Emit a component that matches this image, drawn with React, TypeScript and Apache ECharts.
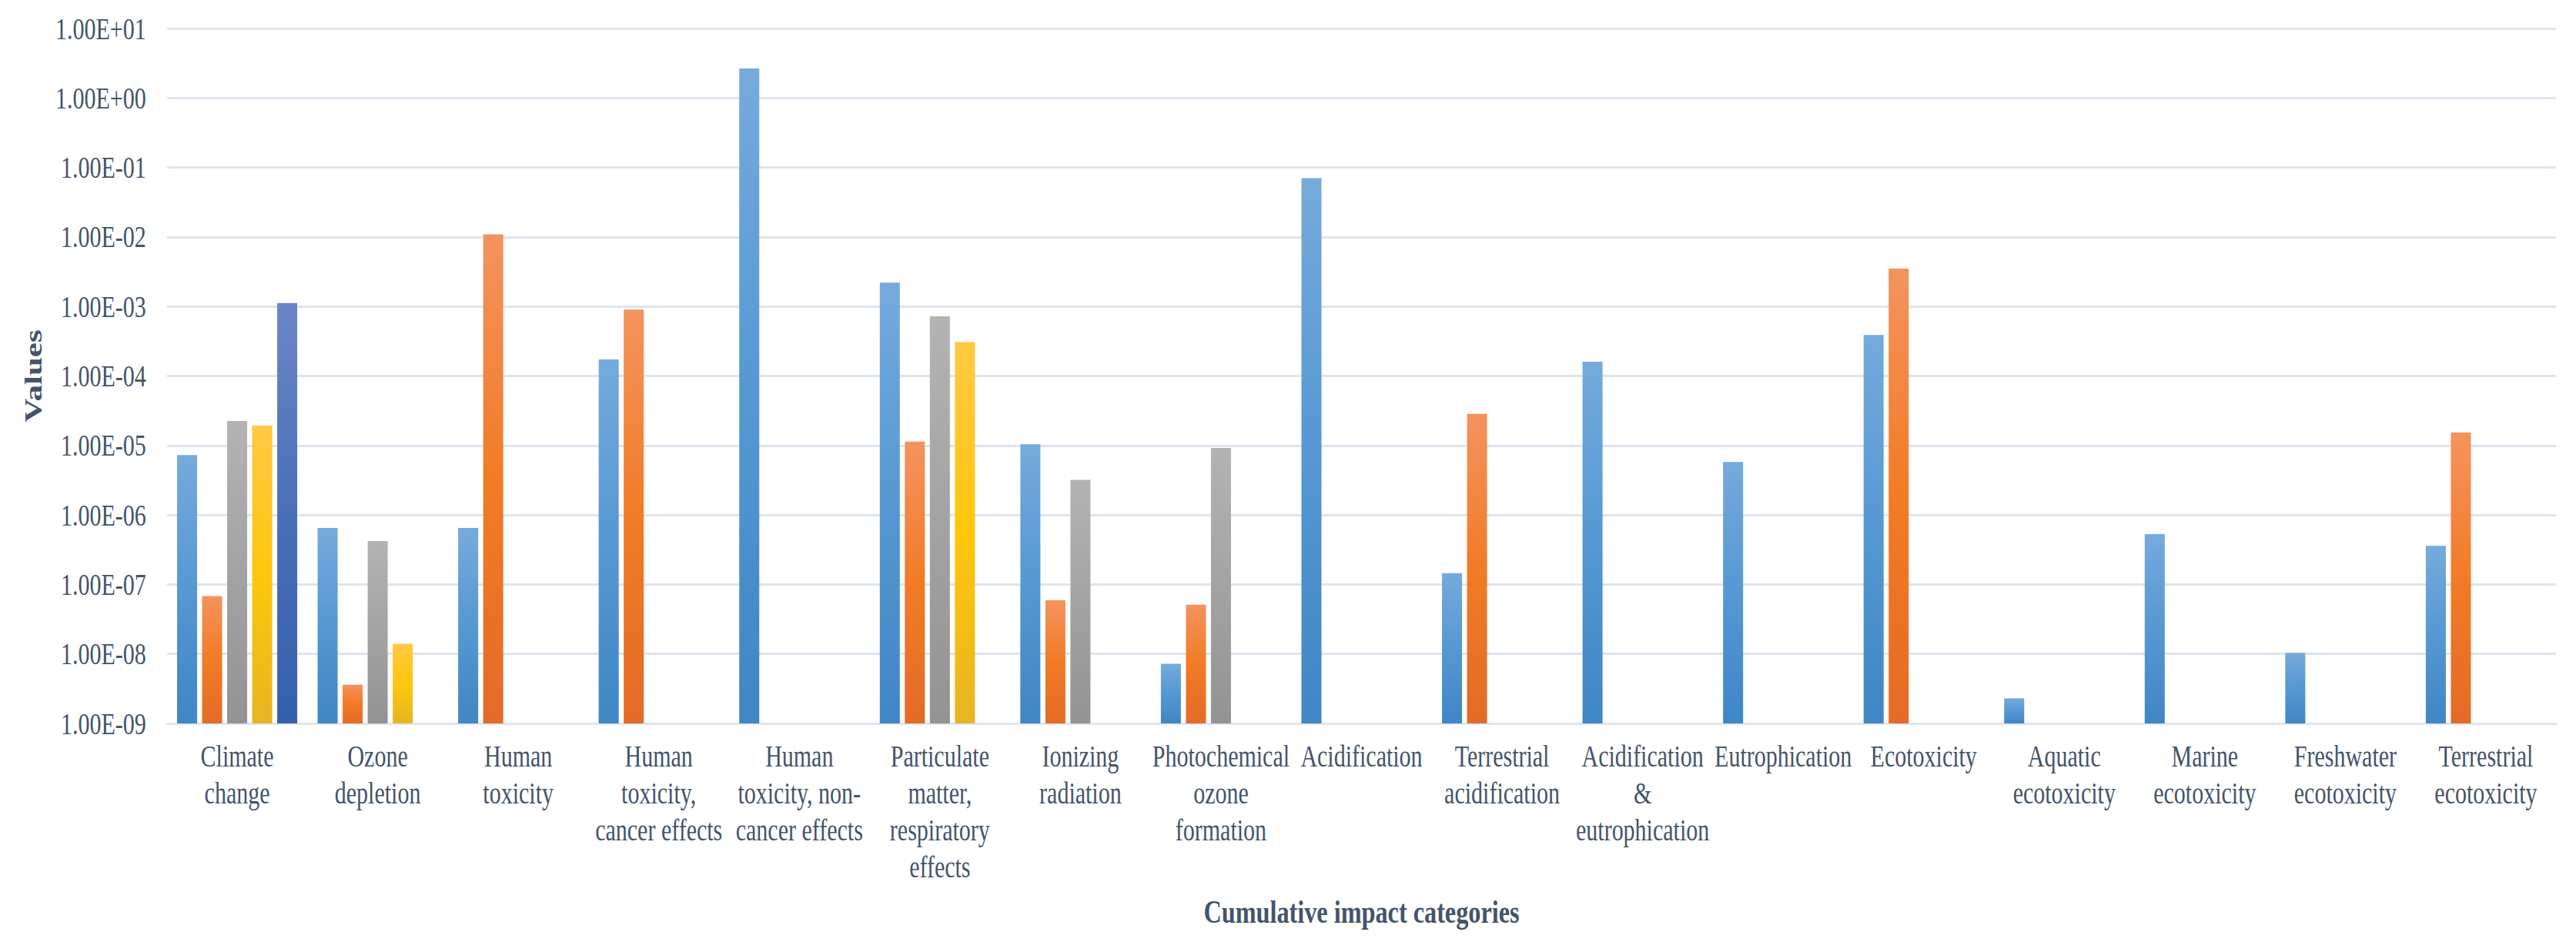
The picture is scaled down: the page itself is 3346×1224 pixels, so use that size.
import React, { useEffect, useRef } from "react";
import * as echarts from "echarts";

// ---- data ----
const categories = [
  "Climate change",
  "Ozone depletion",
  "Human toxicity",
  "Human toxicity, cancer effects",
  "Human toxicity, non-cancer effects",
  "Particulate matter, respiratory effects",
  "Ionizing radiation",
  "Photochemical ozone formation",
  "Acidification",
  "Terrestrial acidification",
  "Acidification & eutrophication",
  "Eutrophication",
  "Ecotoxicity",
  "Aquatic ecotoxicity",
  "Marine ecotoxicity",
  "Freshwater ecotoxicity",
  "Terrestrial ecotoxicity",
];

const categoryLabels = [
  "Climate\nchange",
  "Ozone\ndepletion",
  "Human\ntoxicity",
  "Human\ntoxicity,\ncancer effects",
  "Human\ntoxicity, non-\ncancer effects",
  "Particulate\nmatter,\nrespiratory\neffects",
  "Ionizing\nradiation",
  "Photochemical\nozone\nformation",
  "Acidification",
  "Terrestrial\nacidification",
  "Acidification\n&\neutrophication",
  "Eutrophication",
  "Ecotoxicity",
  "Aquatic\necotoxicity",
  "Marine\necotoxicity",
  "Freshwater\necotoxicity",
  "Terrestrial\necotoxicity",
];

const series1 = [7.3e-6, 6.5e-7, 6.5e-7, 1.73e-4, 2.65, 2.2e-3, 1.04e-5, 7.2e-9, 7.0e-2, 1.45e-7, 1.6e-4, 5.8e-6, 3.9e-4, 2.3e-9, 5.3e-7, 1.04e-8, 3.6e-7];
const series2 = [6.8e-8, 3.6e-9, 1.09e-2, 9.0e-4, null, 1.14e-5, 5.9e-8, 5.1e-8, null, 2.84e-5, null, null, 3.5e-3, null, null, null, 1.53e-5];
const series3 = [2.25e-5, 4.2e-7, null, null, null, 7.2e-4, 3.2e-6, 9.2e-6, null, null, null, null, null, null, null, null, null];
const series4 = [1.93e-5, 1.4e-8, null, null, null, 3.1e-4, null, null, null, null, null, null, null, null, null, null, null];
const series5 = [1.12e-3, null, null, null, null, null, null, null, null, null, null, null, null, null, null, null, null];

const seriesNames = ["Series 1", "Series 2", "Series 3", "Series 4", "Series 5"];
const yMin = 1e-9;
const yMax = 10;
const xTitle = "Cumulative impact categories";
const yTitle = "Values";

// ---- style ----
const SCALE_X = 0.75;
const PAGE_W = 3346;
const PAGE_H = 1224;
const FONT = "'Liberation Serif', 'Times New Roman', serif";
const TEXT = "#44546a";
const GRID = "#dfe5ef";

const gradients = [
  ["#76aadc", "#5598d3", "#3f86c5"],
  ["#f4935e", "#f27b26", "#e36b27"],
  ["#b3b3b3", "#a3a3a3", "#939393"],
  ["#ffc845", "#ffc60c", "#e5b622"],
  ["#6b86c6", "#4a6fb8", "#3460ab"],
];

function grad(c: string[]) {
  return new echarts.graphic.LinearGradient(0, 0, 0, 1, [
    { offset: 0, color: c[0] },
    { offset: 0.5, color: c[1] },
    { offset: 1, color: c[2] },
  ]);
}

function sci(v: number): string {
  if (!(v > 0)) return "";
  const e = Math.round(Math.log10(v));
  const m = v / Math.pow(10, e);
  const sign = e < 0 ? "-" : "+";
  const a = Math.abs(e);
  return m.toFixed(2) + "E" + sign + (a < 10 ? "0" : "") + a;
}

export default function App() {
  const ref = useRef<HTMLDivElement>(null);
  useEffect(() => {
    if (!ref.current) return;
    const chart = echarts.init(ref.current, undefined, { renderer: "svg" });
    const allData = [series1, series2, series3, series4, series5];
    chart.setOption({
      animation: false,
      backgroundColor: "#ffffff",
      grid: { left: 289, right: 34, top: 37, bottom: 284, containLabel: false },
      xAxis: {
        type: "category",
        data: categoryLabels,
        axisLine: { show: true, lineStyle: { color: GRID, width: 3 } },
        axisTick: { show: false },
        axisLabel: {
          interval: 0,
          fontFamily: FONT,
          fontSize: 40,
          lineHeight: 48,
          color: TEXT,
          margin: 18,
        },
        name: xTitle,
        nameLocation: "middle",
        nameGap: 223,
        nameTextStyle: { fontFamily: FONT, fontSize: 43, fontWeight: "bold", color: TEXT },
      },
      yAxis: {
        type: "log",
        logBase: 10,
        min: yMin,
        max: yMax,
        splitNumber: 10,
        startValue: yMin,
        axisLine: { show: false },
        axisTick: { show: false },
        splitLine: { show: true, lineStyle: { color: GRID, width: 3 } },
        axisLabel: {
          fontFamily: FONT,
          fontSize: 40,
          color: TEXT,
          margin: 36,
          formatter: (v: number) => sci(v),
        },
        name: yTitle,
        nameLocation: "middle",
        nameGap: 210,
        nameTextStyle: { fontFamily: FONT, fontSize: 43, fontWeight: "bold", color: TEXT },
      },
      series: allData.map((d, i) => ({
        name: seriesNames[i],
        type: "bar",
        data: d.map((v) => (v === null ? "-" : v)),
        barCategoryGap: "14.5%",
        barGap: "25%",
        itemStyle: { color: grad(gradients[i]) },
      })),
    });
    return () => chart.dispose();
  }, []);

  return (
    <div
      style={{
        position: "fixed",
        left: 0,
        top: 0,
        width: PAGE_W,
        height: PAGE_H,
        overflow: "hidden",
        background: "#fff",
      }}
    >
      <div
        ref={ref}
        style={{
          width: PAGE_W / SCALE_X,
          height: PAGE_H,
          transform: `scaleX(${SCALE_X})`,
          transformOrigin: "0 0",
        }}
      />
    </div>
  );
}
